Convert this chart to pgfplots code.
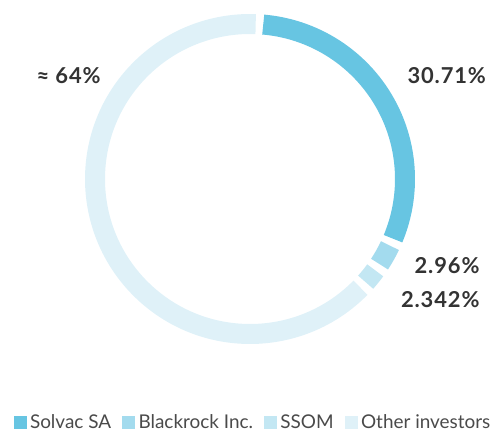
\documentclass[border=0pt]{standalone}
\usepackage{fontspec}
\setmainfont{Lato}
\newfontfamily\labfont[LetterSpace=4]{Lato}
\usepackage{pgfplots}
\usepackage{pgfplotstable}
\pgfplotsset{compat=1.18}

\definecolor{seg0}{HTML}{67C5E2}
\definecolor{seg1}{HTML}{A3DBEE}
\definecolor{seg2}{HTML}{C3E7F3}
\definecolor{seg3}{HTML}{DFF1F8}
\definecolor{labtxt}{HTML}{333333}
\definecolor{legtxt}{HTML}{4A4A4A}

% shareholder split, percent
\pgfplotstableread{
name value
Solvac 30.71
Blackrock 2.96
SSOM 2.342
Other 63.988
}\shares

\begin{document}
\begin{tikzpicture}
\path[use as bounding box] (0,0) rectangle (497bp,433bp);
\begin{axis}[
  at={(0,0)}, anchor=south west,
  scale only axis, width=497bp, height=433bp,
  xmin=0, xmax=497, ymin=0, ymax=433,
  hide axis, clip=false,
  legend columns=4,
  legend style={at={(axis cs:253,11)}, anchor=center, draw=none, fill=none,
    font=\fontsize{19}{22}\selectfont, text=legtxt,
    /tikz/every odd column/.append style={column sep=2bp},
    /tikz/every even column/.append style={column sep=9bp}},
  legend image code/.code={\fill[#1] (0bp,-6bp) rectangle (12bp,6bp);},
]
\def\gap{2.8}
\def\angacc{86.5}
\pgfplotsforeachungrouped \i in {0,1,2,3}{%
  \pgfplotstablegetelem{\i}{value}\of\shares
  \pgfmathsetmacro{\angA}{\angacc-\gap/2}
  \pgfmathsetmacro{\angB}{\angacc-3.6*\pgfplotsretval+\gap/2}
  \pgfmathsetmacro{\angacc}{\angacc-3.6*\pgfplotsretval}
  \edef\tmp{\noexpand\draw[line width=20bp, seg\i] (axis cs:250,254) ++(\angA:155bp)
    arc[start angle=\angA, end angle=\angB, radius=155bp];}
  \tmp
}
\addlegendimage{seg0}\addlegendentry{Solvac SA}
\addlegendimage{seg1}\addlegendentry{Blackrock Inc.}
\addlegendimage{seg2}\addlegendentry{SSOM}
\addlegendimage{seg3}\addlegendentry{Other investors}

\begin{scope}[every node/.style={text=labtxt, font=\labfont\bfseries\fontsize{22}{26}\selectfont}]
\node[anchor=west] at (axis cs:404,357) {30.71\%};
\node[anchor=east] at (axis cs:483,167) {2.96\%};
\node[anchor=east] at (axis cs:483,133) {2.342\%};
\node[anchor=west] at (axis cs:33,357) {≈ 64\%};
\end{scope}
\end{axis}
\end{tikzpicture}
\end{document}
